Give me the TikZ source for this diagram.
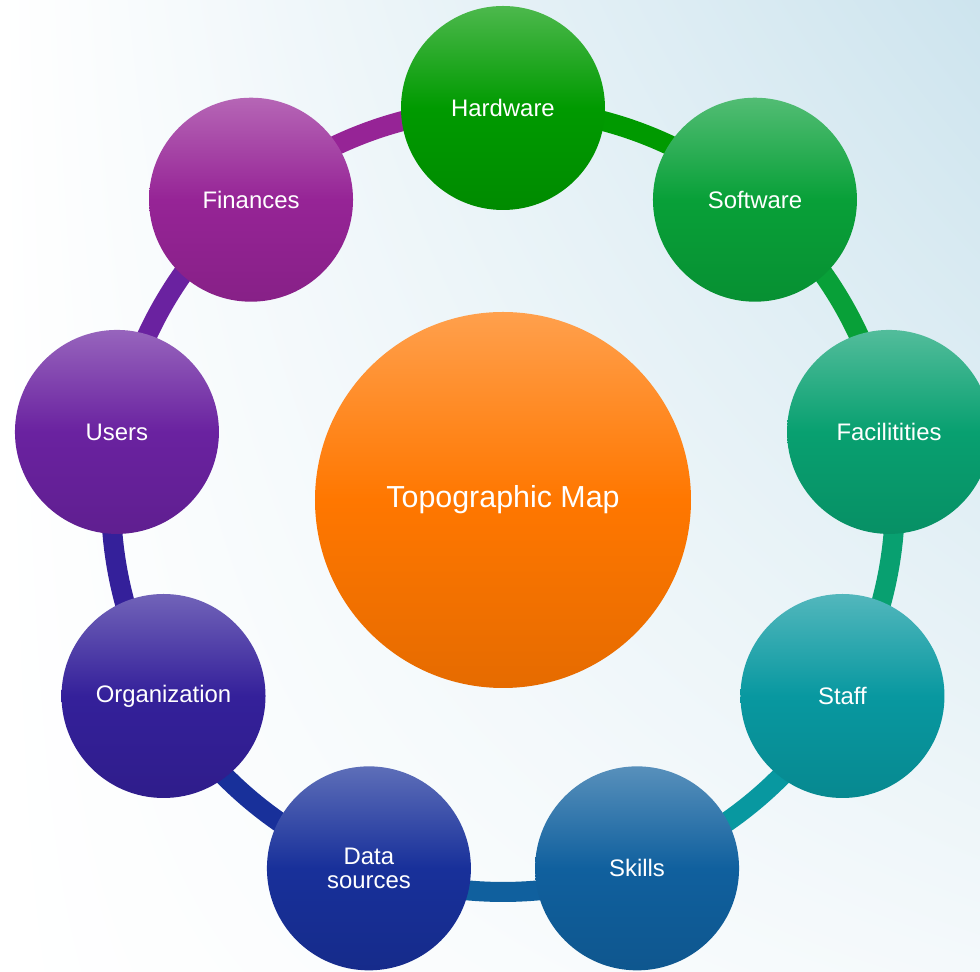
\documentclass[tikz,border=0pt]{standalone}
\usepackage{fontspec}
\setmainfont{Liberation Sans}
\usepackage{tikz}
\usetikzlibrary{backgrounds,shadings}

\definecolor{hwcol}{HTML}{009A00}
\definecolor{swcol}{HTML}{08A038}
\definecolor{faccol}{HTML}{08A070}
\definecolor{staffcol}{HTML}{0898A0}
\definecolor{skillcol}{HTML}{10609E}
\definecolor{datacol}{HTML}{18309A}
\definecolor{orgcol}{HTML}{34209A}
\definecolor{usercol}{HTML}{6A22A0}
\definecolor{fincol}{HTML}{962496}
\definecolor{mapcol}{HTML}{FF7700}
\definecolor{bgtr}{HTML}{CDE4EE}
\definecolor{bgbr}{HTML}{F4F9FB}

\begin{document}
\begin{tikzpicture}
    \tikzset{
        bubble/.style   =   { circle
                            , inner sep=0pt
                            , minimum size=4.08cm
                            , align=center
                            , text=white
                            , font=\fontsize{13.6}{13.2}\selectfont
                            , top color=#1!70!white
                            , bottom color=#1!90!black
                            , middle color=#1
        }
        , hub/.style    =   { bubble=#1
                            , minimum size=7.52cm
                            , font=\fontsize{17.3}{20}\selectfont
        }
        , link/.style   =   { line width=0.4cm
                            , draw=#1
        }
    }
    \useasboundingbox (-10.06,-9.44) rectangle (9.54,10.0);

    \node(map)[hub=mapcol]              at (0,0)        {Topographic Map};
    \node(hw)[bubble=hwcol]             at (90:7.84)    {Hardware};
    \node(sw)[bubble=swcol]             at (50:7.84)    {Software};
    \node(fac)[bubble=faccol]           at (10:7.84)    {Facilitities};
    \node(staff)[bubble=staffcol]       at (-30:7.84)   {Staff};
    \node(skills)[bubble=skillcol]      at (-70:7.84)   {Skills};
    \node(data)[bubble=datacol]         at (-110:7.84)  {Data\\sources};
    \node(org)[bubble=orgcol]           at (-150:7.84)  {Organization};
    \node(users)[bubble=usercol]        at (170:7.84)   {Users};
    \node(fin)[bubble=fincol]           at (130:7.84)   {Finances};

    % background and ring behind the bubbles
    \begin{scope}[on background layer]
        \shade[upper left=white, upper right=bgtr, lower left=white, lower right=bgbr]
            (-10.06,-9.44) rectangle (9.54,10.0);
        \draw[link=hwcol]    (hw.center)     to[bend left=20, looseness=0.88] (sw.center);
        \draw[link=swcol]    (sw.center)     to[bend left=20, looseness=0.88] (fac.center);
        \draw[link=faccol]   (fac.center)    to[bend left=20, looseness=0.88] (staff.center);
        \draw[link=staffcol] (staff.center)  to[bend left=20, looseness=0.88] (skills.center);
        \draw[link=skillcol] (skills.center) to[bend left=20, looseness=0.88] (data.center);
        \draw[link=datacol]  (data.center)   to[bend left=20, looseness=0.88] (org.center);
        \draw[link=orgcol]   (org.center)    to[bend left=20, looseness=0.88] (users.center);
        \draw[link=usercol]  (users.center)  to[bend left=20, looseness=0.88] (fin.center);
        \draw[link=fincol]   (fin.center)    to[bend left=20, looseness=0.88] (hw.center);
    \end{scope}
\end{tikzpicture}
\end{document}
